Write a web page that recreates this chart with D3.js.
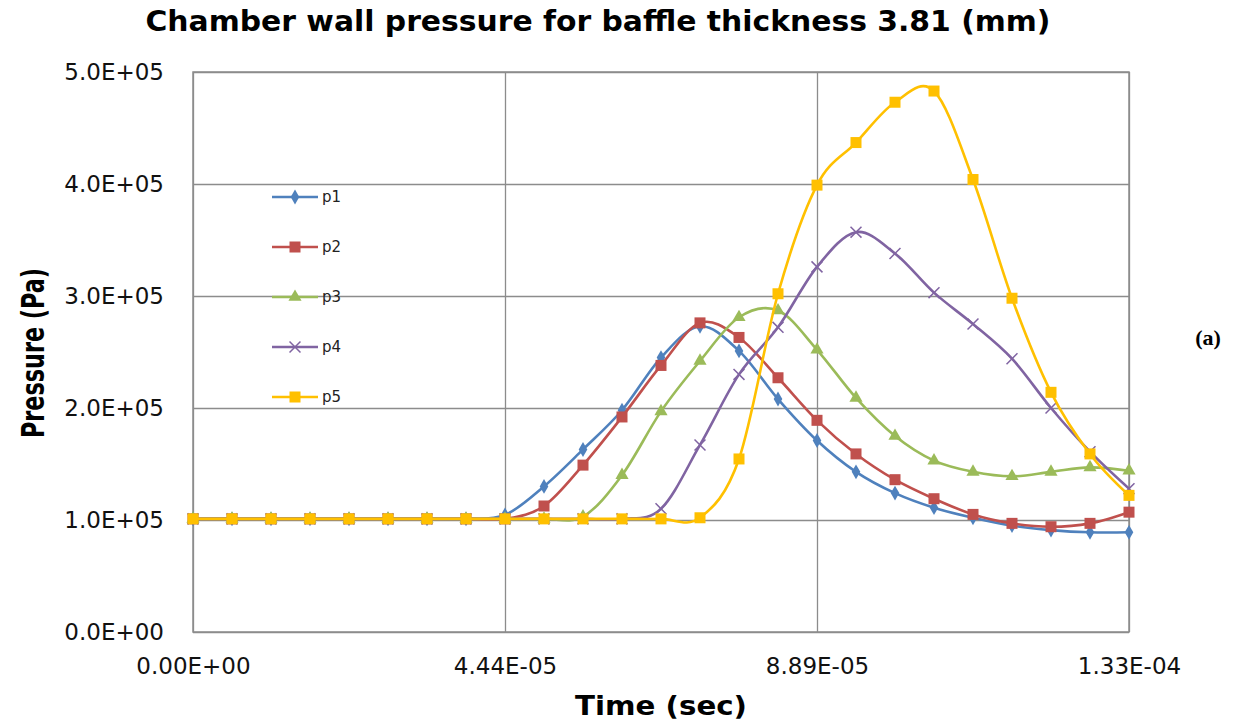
<!DOCTYPE html>
<html lang="en">
<head>
    <meta charset="UTF-8">
    <title>Chamber wall pressure</title>
    <script src="https://d3js.org/d3.v7.min.js"></script>
    <style>
        body { margin: 0; background: #fff; }
        text { font-family: "DejaVu Sans", sans-serif; }
    </style>
</head>
<body>
    <svg width="1236" height="723" id="chart"></svg>

    <script>
        // Data: 25 samples from 0 to 1.333E-04 s
        const timeStep = 1.3333e-4 / 24;
        const times = d3.range(25).map(i => i * timeStep);

        const seriesNames = ["p1", "p2", "p3", "p4", "p5"];
        const p1 = [1.01e5, 1.01e5, 1.01e5, 1.01e5, 1.01e5, 1.01e5, 1.01e5, 1.01e5, 1.045e5, 1.30e5, 1.63e5, 1.98e5, 2.45e5, 2.73e5, 2.51e5, 2.08e5, 1.71e5, 1.43e5, 1.24e5, 1.11e5, 1.02e5, 0.95e5, 0.91e5, 0.89e5, 0.89e5];
        const p2 = [1.01e5, 1.01e5, 1.01e5, 1.01e5, 1.01e5, 1.01e5, 1.01e5, 1.01e5, 1.01e5, 1.125e5, 1.49e5, 1.92e5, 2.38e5, 2.76e5, 2.63e5, 2.27e5, 1.89e5, 1.59e5, 1.36e5, 1.19e5, 1.05e5, 0.97e5, 0.94e5, 0.97e5, 1.07e5];
        const p3 = [1.01e5, 1.01e5, 1.01e5, 1.01e5, 1.01e5, 1.01e5, 1.01e5, 1.01e5, 1.01e5, 1.01e5, 1.03e5, 1.40e5, 1.97e5, 2.42e5, 2.81e5, 2.87e5, 2.52e5, 2.09e5, 1.75e5, 1.53e5, 1.43e5, 1.39e5, 1.43e5, 1.47e5, 1.44e5];
        const p4 = [1.01e5, 1.01e5, 1.01e5, 1.01e5, 1.01e5, 1.01e5, 1.01e5, 1.01e5, 1.01e5, 1.01e5, 1.01e5, 1.01e5, 1.10e5, 1.67e5, 2.30e5, 2.72e5, 3.26e5, 3.57e5, 3.38e5, 3.03e5, 2.75e5, 2.44e5, 2.00e5, 1.61e5, 1.28e5];
        const p5 = [1.01e5, 1.01e5, 1.01e5, 1.01e5, 1.01e5, 1.01e5, 1.01e5, 1.01e5, 1.01e5, 1.01e5, 1.01e5, 1.01e5, 1.01e5, 1.02e5, 1.545e5, 3.02e5, 3.99e5, 4.37e5, 4.73e5, 4.83e5, 4.04e5, 2.98e5, 2.14e5, 1.59e5, 1.22e5];
        const seriesValues = [p1, p2, p3, p4, p5];

        const yTicks = [0, 1e5, 2e5, 3e5, 4e5, 5e5];
        const yTickLabels = ["0.0E+00", "1.0E+05", "2.0E+05", "3.0E+05", "4.0E+05", "5.0E+05"];
        const xTickLabels = ["0.00E+00", "4.44E-05", "8.89E-05", "1.33E-04"];

        // Styles
        const colors = ["#4F81BD", "#C0504D", "#9BBB59", "#8064A2", "#FFC000"];
        const markerShapes = ["diamond", "square", "triangle", "cross", "square"];
        const gridColor = "#8c8c8c";

        const svg = d3.select("#chart");
        const margin = { left: 193, right: 1236 - 1129, top: 72, bottom: 723 - 632 };
        const width = 1236 - margin.left - margin.right;
        const height = 723 - margin.top - margin.bottom;

        const xMax = 24 * timeStep;
        const x = d3.scaleLinear().domain([0, xMax]).range([0, width]);
        const y = d3.scaleLinear().domain([0, 5e5]).range([height, 0]);
        const xTicks = [0, 1, 2, 3].map(k => k * xMax / 3);

        const g = svg.append("g").attr("transform", `translate(${margin.left},${margin.top})`);

        // Gridlines
        const yGrid = g.append("g")
            .call(d3.axisLeft(y).tickValues(yTicks).tickSize(-width).tickFormat(""));
        const xGrid = g.append("g")
            .attr("transform", `translate(0,${height})`)
            .call(d3.axisBottom(x).tickValues(xTicks).tickSize(-height).tickFormat(""));
        [yGrid, xGrid].forEach(a => {
            a.select(".domain").remove();
            a.selectAll("line").attr("stroke", gridColor).attr("stroke-width", 1.3);
        });

        g.append("rect")
            .attr("width", width).attr("height", height)
            .attr("fill", "none").attr("stroke", gridColor).attr("stroke-width", 1.5);

        // Tick labels
        const yAxis = g.append("g")
            .call(d3.axisLeft(y).tickValues(yTicks).tickSize(0).tickPadding(29)
                .tickFormat((d, i) => yTickLabels[i]));
        const xAxis = g.append("g")
            .attr("transform", `translate(0,${height})`)
            .call(d3.axisBottom(x).tickValues(xTicks).tickSize(0).tickPadding(26)
                .tickFormat((d, i) => xTickLabels[i]));
        [yAxis, xAxis].forEach(a => {
            a.select(".domain").remove();
            a.selectAll("text")
                .style("font-family", "'DejaVu Sans', sans-serif")
                .style("font-size", "23px")
                .attr("fill", "#111");
        });

        // Marker drawing
        function drawMarker(sel, shape, color, cx, cy) {
            if (shape === "diamond") {
                sel.append("path").attr("d", d3.symbol(d3.symbolDiamond, 64)())
                    .attr("transform", `translate(${cx},${cy})`).attr("fill", color);
            } else if (shape === "square") {
                sel.append("rect").attr("x", cx - 5.5).attr("y", cy - 5.5)
                    .attr("width", 11).attr("height", 11).attr("fill", color);
            } else if (shape === "triangle") {
                sel.append("path").attr("d", d3.symbol(d3.symbolTriangle, 75)())
                    .attr("transform", `translate(${cx},${cy})`).attr("fill", color);
            } else {
                sel.append("path").attr("d", d3.symbol(d3.symbolTimes, 80)())
                    .attr("transform", `translate(${cx},${cy})`)
                    .attr("fill", "none").attr("stroke", color).attr("stroke-width", 1.5);
            }
        }

        const line = d3.line()
            .x(d => x(d[0]))
            .y(d => y(d[1]))
            .curve(d3.curveCardinal.tension(0));

        seriesValues.forEach((vals, s) => {
            const pts = times.map((t, i) => [t, vals[i]]);
            const sg = g.append("g");
            sg.append("path")
                .attr("d", line(pts))
                .attr("fill", "none")
                .attr("stroke", colors[s])
                .attr("stroke-width", 2.6);
            pts.forEach(p => drawMarker(sg, markerShapes[s], colors[s], x(p[0]), y(p[1])));
        });

        // Legend
        const legend = svg.append("g");
        seriesNames.forEach((name, s) => {
            const ly = 197 + s * 50;
            legend.append("line")
                .attr("x1", 272).attr("x2", 318).attr("y1", ly).attr("y2", ly)
                .attr("stroke", colors[s]).attr("stroke-width", 2.6);
            drawMarker(legend, markerShapes[s], colors[s], 295, ly);
            legend.append("text")
                .attr("x", 322).attr("y", ly + 5)
                .style("font-size", "15px")
                .attr("fill", "#222")
                .text(name);
        });

        // Titles
        svg.append("text")
            .attr("x", 598).attr("y", 31)
            .attr("text-anchor", "middle")
            .attr("textLength", 905).attr("lengthAdjust", "spacingAndGlyphs")
            .style("font-size", "28px").style("font-weight", "bold")
            .text("Chamber wall pressure for baffle thickness 3.81 (mm)");

        svg.append("text")
            .attr("transform", "translate(44,353) rotate(-90)")
            .attr("text-anchor", "middle")
            .attr("textLength", 170).attr("lengthAdjust", "spacingAndGlyphs")
            .style("font-size", "32px").style("font-weight", "bold")
            .text("Pressure (Pa)");

        svg.append("text")
            .attr("x", 661).attr("y", 715)
            .attr("text-anchor", "middle")
            .attr("textLength", 172).attr("lengthAdjust", "spacingAndGlyphs")
            .style("font-size", "27px").style("font-weight", "bold")
            .text("Time (sec)");

        svg.append("text")
            .attr("x", 1208).attr("y", 345)
            .attr("text-anchor", "middle")
            .style("font-family", "'Liberation Serif', serif")
            .style("font-size", "22px").style("font-weight", "bold")
            .text("(a)");
    </script>
</body>
</html>
